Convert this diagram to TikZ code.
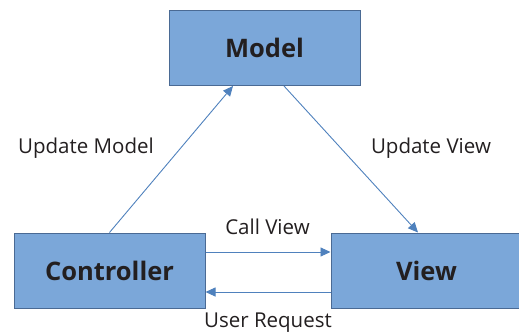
\documentclass[tikz,border=0pt]{standalone}
\usepackage{fontspec}
\setmainfont{Open Sans}
\usetikzlibrary{arrows.meta}
\definecolor{boxfill}{HTML}{7BA7D9}
\definecolor{boxline}{HTML}{4A6A94}
\definecolor{arrowc}{HTML}{4F81BD}
\definecolor{txt}{HTML}{231F20}
\begin{document}
\begin{tikzpicture}[x=1pt,y=1pt,
  box/.style={draw=boxline,line width=1pt,fill=boxfill,minimum width=191pt,minimum height=75pt,inner sep=0pt,font=\fontsize{25.5}{28}\selectfont\bfseries,text=txt},
  lbl/.style={font=\fontsize{20.5}{24}\selectfont,text=txt,inner sep=0pt},
  conn/.style={draw=arrowc,line width=0.9pt,-{Triangle[length=10pt,width=9pt]}}]
\useasboundingbox (0,0) rectangle (519,333);
\begin{scope}
\clip (0,0) rectangle (519,333);
\node[box] (model) at (264.5,285) {Model};
\node[box] (ctrl) at (109.5,62.5) {Controller};
\node[box] (view) at (426.5,62.5) {View};
\end{scope}
\draw[conn] (ctrl.north) -- ([xshift=-31.5pt]model.south);
\draw[conn] ([xshift=19.5pt]model.south) -- ([xshift=-8.5pt]view.north);
\draw[conn] ([yshift=18.5pt]ctrl.east) -- ([yshift=18.5pt]view.west);
\draw[conn] ([yshift=-21.5pt]view.west) -- ([yshift=-21.5pt]ctrl.east);
\node[lbl] (um) at (86,184.5) {Update Model};
\node[lbl] (uv) at (431,184.5) {Update View};
\node[lbl] (cv) at (267.5,106.5) {Call View};
\node[lbl] (ur) at (268,10) {User Request};
\end{tikzpicture}
\end{document}
